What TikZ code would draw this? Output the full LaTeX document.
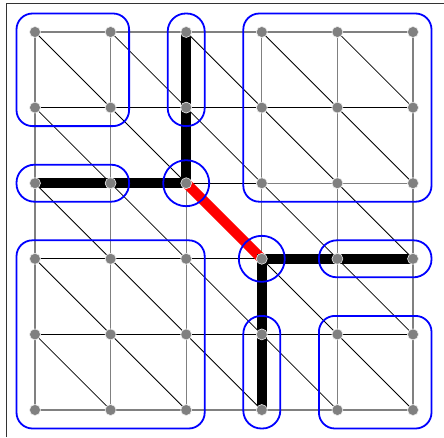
\documentclass[tikz,border=0pt]{standalone}
\usetikzlibrary{fit}
\begin{document}
\begin{tikzpicture}[x=1pt,y=-1pt,
  vtx/.style={circle,fill=gray,draw=white!85!gray,line width=0.6pt,inner sep=0pt,minimum size=11pt,outer sep=0pt},
  gedge/.style={draw=gray,line width=1.1pt},
  bedge/.style={draw=black,line width=0.9pt},
  diag/.style={draw=black,line width=0.8pt},
  thick path/.style={line width=10pt,line cap=butt},
  loopbox/.style={draw=blue,line width=1.8pt,inner sep=18.5pt,rounded corners=16pt},
  pill/.style={draw=blue,line width=1.8pt,inner sep=18.5pt,rounded corners=18pt},
  ring/.style={circle,draw=blue,line width=1.8pt,minimum size=46pt,inner sep=0pt}]
\useasboundingbox (0,0) rectangle (444,437);
% frame
\draw[line width=1pt,black!80] (6.5,437) -- (6.5,3) -- (444,3);
% vertex coordinates
\foreach \i in {0,...,5}{
  \foreach \j in {0,...,5}{
    \coordinate (c\i\j) at ({35+75.6*\i},{32+75.6*\j});
  }
}
% thin mesh: verticals
\foreach \i in {0,...,5}{
  \foreach \j [evaluate=\j as \k using int(\j+1)] in {0,...,4}{
    \draw[gedge] (c\i\j) -- (c\i\k);
  }
}
% horizontals
\foreach \j in {0,...,5}{
  \foreach \i [evaluate=\i as \k using int(\i+1)] in {0,...,4}{
    \ifnum\j=0 \draw[gedge] (c\i\j) -- (c\k\j);
    \else\ifnum\j=5 \draw[gedge] (c\i\j) -- (c\k\j);
    \else \draw[bedge] (c\i\j) -- (c\k\j);
    \fi\fi
  }
}
\draw[gedge] (c32) -- (c42) -- (c52);
% diagonals
\foreach \i [evaluate=\i as \k using int(\i+1)] in {0,...,4}{
  \foreach \j [evaluate=\j as \l using int(\j+1)] in {0,...,4}{
    \draw[diag] (c\i\j) -- (c\k\l);
  }
}
% thick paths
\draw[thick path,black] (c20) -- (c21) -- (c22) -- (c12) -- (c02);
\draw[thick path,red] (c22) -- (c33);
\draw[thick path,black] (c53) -- (c43) -- (c33) -- (c34) -- (c35);
% blue groups
\node[loopbox,fit=(c00)(c11)] (g1) {};
\node[pill,fit=(c20)(c21)] (g2) {};
\node[loopbox,fit=(c30)(c52)] (g3) {};
\node[pill,fit=(c02)(c12)] (g4) {};
\node[ring] (g5) at (c22) {};
\node[ring] (g6) at (c33) {};
\node[pill,fit=(c43)(c53)] (g7) {};
\node[loopbox,fit=(c03)(c25)] (g8) {};
\node[pill,fit=(c34)(c35)] (g9) {};
\node[loopbox,fit=(c44)(c55)] (g10) {};
% vertices
\foreach \i in {0,...,5}{
  \foreach \j in {0,...,5}{
    \node[vtx] (n\i\j) at (c\i\j) {};
  }
}
\end{tikzpicture}
\end{document}
